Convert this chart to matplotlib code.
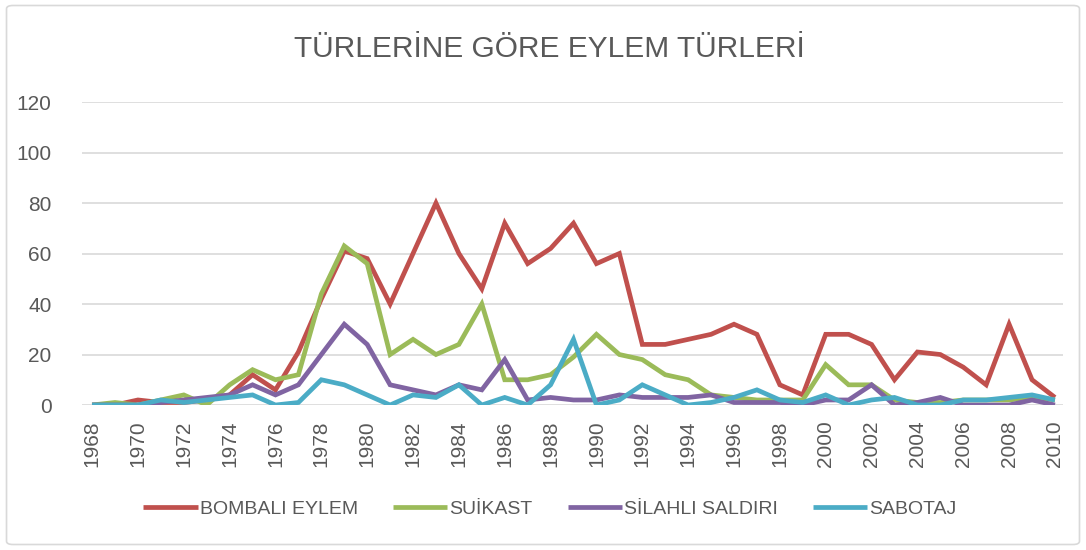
import matplotlib
matplotlib.use("Agg")
import matplotlib.pyplot as plt
from matplotlib.patches import FancyBboxPatch

years = list(range(1968, 2011))

bombali = [0, 0, 2, 1, 1, 2, 4, 12, 6, 21, 42, 61, 58, 40, 60, 80, 60, 46, 72, 56, 62,
           72, 56, 60, 24, 24, 26, 28, 32, 28, 8, 4, 28, 28, 24, 10, 21, 20, 15, 8, 32, 10, 3]
suikast = [0, 1, 0, 2, 4, 0, 8, 14, 10, 12, 44, 63, 56, 20, 26, 20, 24, 40, 10, 10, 12,
           19, 28, 20, 18, 12, 10, 4, 3, 2, 2, 2, 16, 8, 8, 2, 1, 1, 2, 2, 2, 3, 2]
silahli = [0, 0, 0, 1, 2, 3, 4, 8, 4, 8, 20, 32, 24, 8, 6, 4, 8, 6, 18, 2, 3,
           2, 2, 4, 3, 3, 3, 4, 1, 1, 1, 0, 2, 2, 8, 0, 1, 3, 0, 0, 0, 2, 0]
sabotaj = [0, 0, 0, 2, 1, 2, 3, 4, 0, 1, 10, 8, 4, 0, 4, 3, 8, 0, 3, 0, 8,
           26, 0, 2, 8, 4, 0, 1, 3, 6, 2, 1, 4, 0, 2, 3, 0, 0, 2, 2, 3, 4, 2]

series = [
    ("BOMBALI EYLEM", bombali, "#C0504D"),
    ("SUİKAST", suikast, "#9BBB59"),
    ("SİLAHLI SALDIRI", silahli, "#8064A2"),
    ("SABOTAJ", sabotaj, "#4BACC6"),
]

plt.rcParams['font.family'] = ['Liberation Sans', 'DejaVu Sans']
text_col = "#595959"

fig = plt.figure(figsize=(10.86, 5.5), dpi=100)

# chart border
fig.patches.append(FancyBboxPatch((0.006, 0.01), 0.988, 0.98,
                                  boxstyle="round,pad=0,rounding_size=0.006",
                                  transform=fig.transFigure, fill=False,
                                  edgecolor="#D9D9D9", linewidth=1.2))

ax = fig.add_axes([0.0755, 0.2636, 0.9033, 0.5509])

for name, vals, col in series:
    ax.plot(years, vals, color=col, linewidth=3.4, label=name,
            solid_joinstyle="miter", solid_capstyle="butt")

ax.set_ylim(0, 120)
ax.set_xlim(1967.56, 2010.35)
ax.set_yticks(range(0, 121, 20))
ax.set_xticks(years[::2])
ax.set_xticklabels([str(y) for y in years[::2]], rotation=90)
ax.grid(axis="y", color="#D9D9D9", linewidth=1.2)
ax.set_axisbelow(True)
for s in ax.spines.values():
    s.set_visible(False)
ax.tick_params(axis="both", length=0, labelsize=15, colors=text_col)
ax.tick_params(axis="y", pad=22)
ax.tick_params(axis="x", pad=11)

fig.text(549 / 1086, 1 - 49 / 550, "TÜRLERİNE GÖRE EYLEM TÜRLERİ", ha="center", va="center",
         fontsize=21.5, color=text_col)

leg = fig.legend(loc="center", bbox_to_anchor=(550 / 1086, 1 - 509 / 550), ncol=4,
                 frameon=False, fontsize=14, handlelength=2.8, handletextpad=0.1,
                 columnspacing=1.8)
for t in leg.get_texts():
    t.set_color(text_col)

fig.savefig("out.png", dpi=100)
